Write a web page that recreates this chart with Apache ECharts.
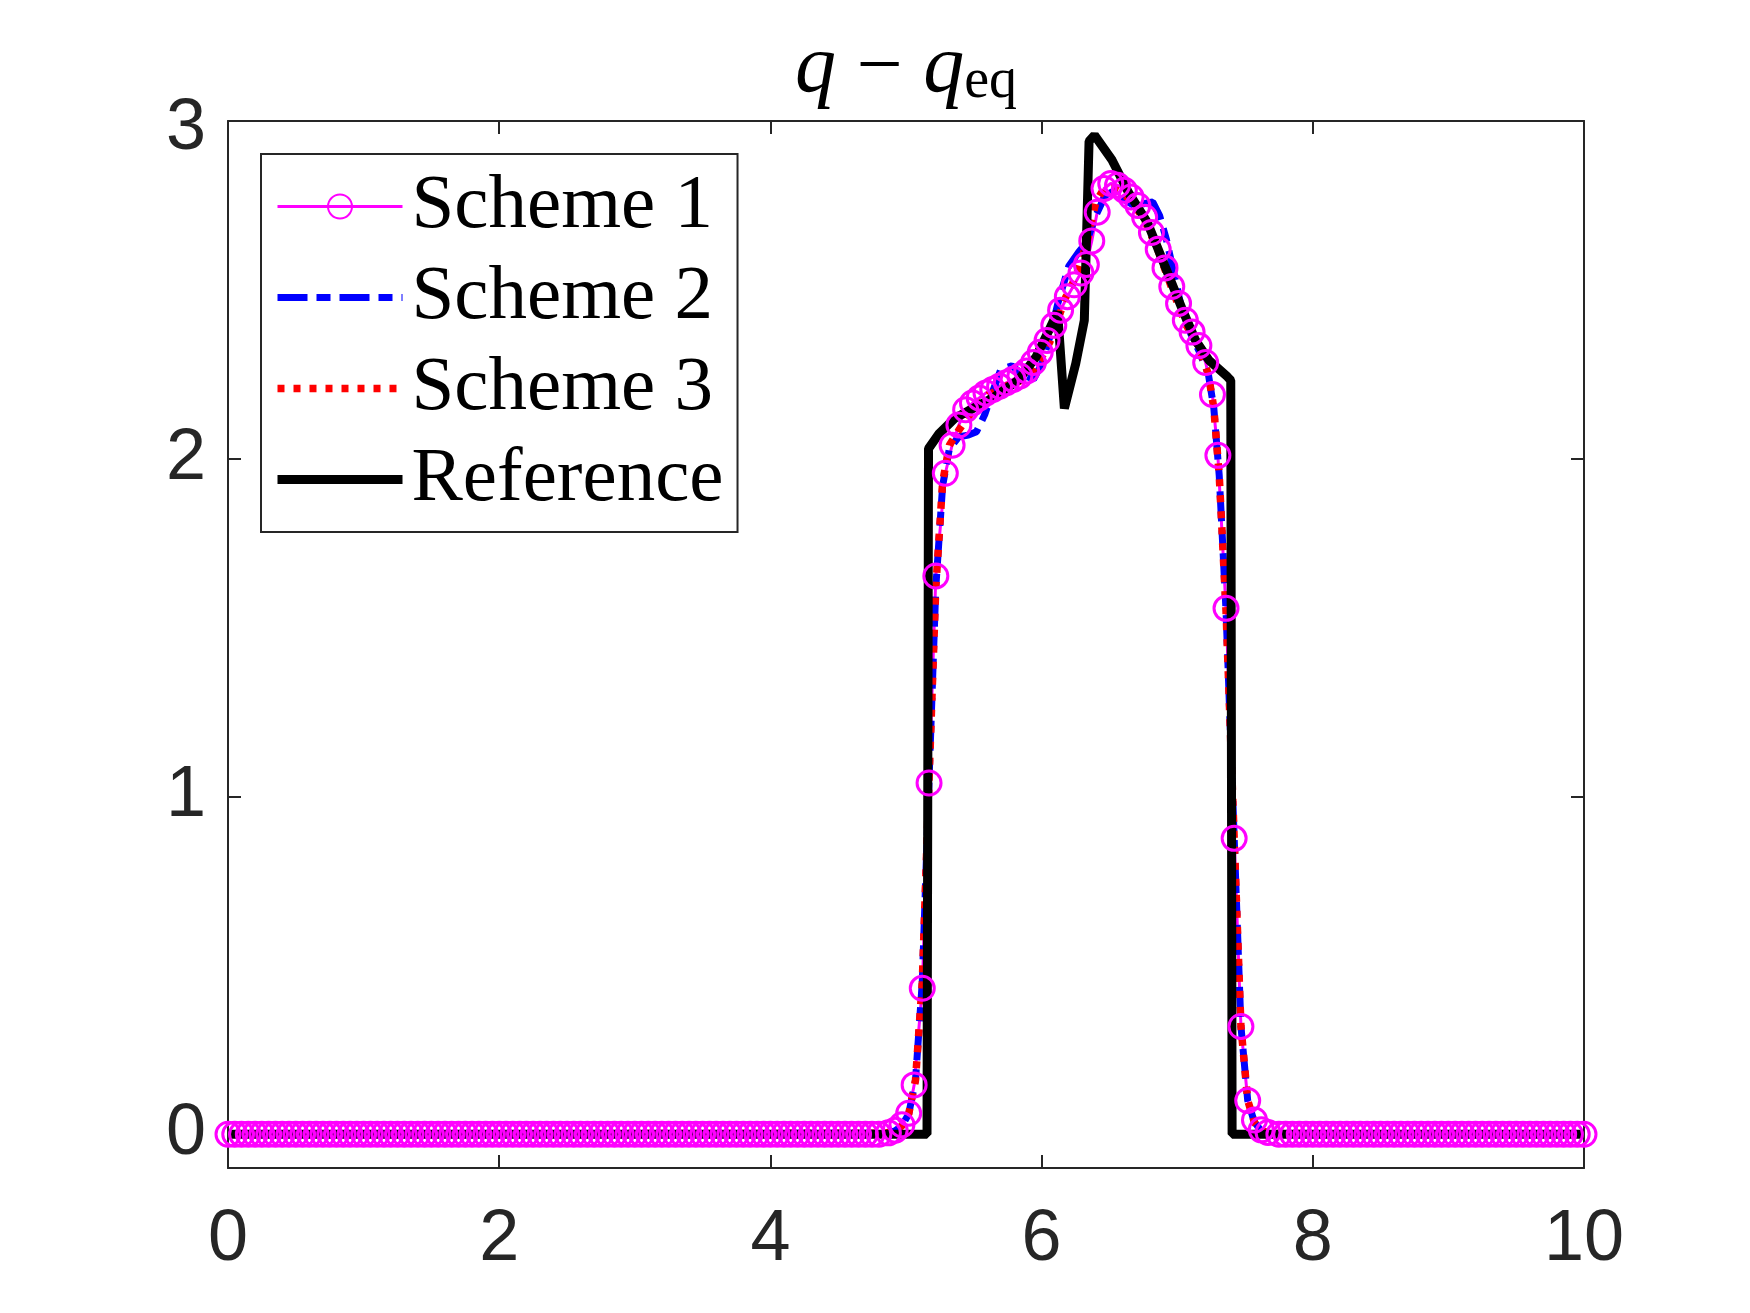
<!DOCTYPE html>
<html>
<head>
<meta charset="utf-8">
<script src="https://cdn.jsdelivr.net/npm/echarts@6/dist/echarts.min.js"></script>
<style>
  html, body { margin: 0; padding: 0; background: #fff; }
  #chart { width: 1750px; height: 1313px; }
</style>
</head>
<body>
<div id="chart"></div>
<script>
// axis ticks
const xTicks = [0, 2, 4, 6, 8, 10];
const xTickLabels = ['0', '2', '4', '6', '8', '10'];
const yTicks = [0, 1, 2, 3];
const yTickLabels = ['0', '1', '2', '3'];

const seriesNames = ['Scheme 1', 'Scheme 2', 'Scheme 3', 'Reference'];

// Scheme 1 (markers at every grid point)
const s1LeftX = [
  0, 0.05, 0.1, 0.15, 0.2, 0.25, 0.3, 0.35, 0.4, 0.45,
  0.5, 0.55, 0.6, 0.65, 0.7, 0.75, 0.8, 0.85, 0.9, 0.95,
  1, 1.05, 1.1, 1.15, 1.2, 1.25, 1.3, 1.35, 1.4, 1.45,
  1.5, 1.55, 1.6, 1.65, 1.7, 1.75, 1.8, 1.85, 1.9, 1.95,
  2, 2.05, 2.1, 2.15, 2.2, 2.25, 2.3, 2.35, 2.4, 2.45,
  2.5, 2.55, 2.6, 2.65, 2.7, 2.75, 2.8, 2.85, 2.9, 2.95,
  3, 3.05, 3.1, 3.15, 3.2, 3.25, 3.3, 3.35, 3.4, 3.45,
  3.5, 3.55, 3.6, 3.65, 3.7, 3.75, 3.8, 3.85, 3.9, 3.95,
  4, 4.05, 4.1, 4.15, 4.2, 4.25, 4.3, 4.35, 4.4, 4.45,
  4.5, 4.55, 4.6, 4.65, 4.7, 4.75, 4.8
];
const s1LeftY = [
  0, 0, 0, 0, 0, 0, 0, 0, 0, 0,
  0, 0, 0, 0, 0, 0, 0, 0, 0, 0,
  0, 0, 0, 0, 0, 0, 0, 0, 0, 0,
  0, 0, 0, 0, 0, 0, 0, 0, 0, 0,
  0, 0, 0, 0, 0, 0, 0, 0, 0, 0,
  0, 0, 0, 0, 0, 0, 0, 0, 0, 0,
  0, 0, 0, 0, 0, 0, 0, 0, 0, 0,
  0, 0, 0, 0, 0, 0, 0, 0, 0, 0,
  0, 0, 0, 0, 0, 0, 0, 0, 0, 0,
  0, 0, 0, 0, 0, 0, 0
];
const s1BumpX = [
  4.87, 4.92, 4.97, 5.02, 5.06, 5.12, 5.17, 5.22, 5.29, 5.34,
  5.39, 5.44, 5.49, 5.54, 5.59, 5.64, 5.69, 5.74, 5.79, 5.84,
  5.89, 5.94, 5.99, 6.04, 6.09, 6.14, 6.19, 6.24, 6.29, 6.33,
  6.37, 6.41, 6.46, 6.51, 6.56, 6.61, 6.66, 6.71, 6.76, 6.81,
  6.86, 6.91, 6.96, 7.01, 7.06, 7.11, 7.16, 7.21, 7.26, 7.30,
  7.36, 7.42, 7.47, 7.52, 7.57, 7.62, 7.67
];
const s1BumpY = [
  0.004, 0.012, 0.028, 0.062, 0.146, 0.432, 1.04, 1.653, 1.957, 2.04,
  2.10, 2.145, 2.165, 2.18, 2.195, 2.205, 2.215, 2.225, 2.235, 2.245,
  2.26, 2.285, 2.315, 2.35, 2.395, 2.44, 2.48, 2.515, 2.55, 2.575,
  2.645, 2.73, 2.80, 2.815, 2.81, 2.795, 2.775, 2.75, 2.715, 2.67,
  2.62, 2.565, 2.51, 2.46, 2.41, 2.375, 2.335, 2.285, 2.19, 2.01,
  1.557, 0.876, 0.319, 0.10, 0.042, 0.013, 0.005
];
const s1RightX = [
  7.75, 7.8, 7.85, 7.9, 7.95,
  8, 8.05, 8.1, 8.15, 8.2, 8.25, 8.3, 8.35, 8.4, 8.45,
  8.5, 8.55, 8.6, 8.65, 8.7, 8.75, 8.8, 8.85, 8.9, 8.95,
  9, 9.05, 9.1, 9.15, 9.2, 9.25, 9.3, 9.35, 9.4, 9.45,
  9.5, 9.55, 9.6, 9.65, 9.7, 9.75, 9.8, 9.85, 9.9, 9.95,
  10
];
const s1RightY = [
  0, 0, 0, 0, 0,
  0, 0, 0, 0, 0, 0, 0, 0, 0, 0,
  0, 0, 0, 0, 0, 0, 0, 0, 0, 0,
  0, 0, 0, 0, 0, 0, 0, 0, 0, 0,
  0, 0, 0, 0, 0, 0, 0, 0, 0, 0,
  0
];

// Scheme 2 (dash-dot)
const s2X = [0, 4.85, 4.92, 4.97, 5.02, 5.07, 5.12, 5.17, 5.22, 5.27,
  5.32, 5.39, 5.46, 5.52, 5.58, 5.64, 5.70, 5.78, 5.86, 5.94,
  6.0, 6.06, 6.12, 6.2, 6.27, 6.33, 6.40, 6.47, 6.52, 6.6,
  6.68, 6.75, 6.82, 6.87, 6.92, 6.97, 7.03, 7.1, 7.16, 7.23,
  7.27, 7.31, 7.36, 7.42, 7.47, 7.52, 7.57, 7.62, 7.70, 10];
const s2Y = [0, 0.003, 0.01, 0.025, 0.06, 0.16, 0.45, 1.05, 1.62, 1.92,
  2.03, 2.065, 2.07, 2.08, 2.13, 2.2, 2.265, 2.275, 2.25, 2.235,
  2.28, 2.36, 2.46, 2.57, 2.61, 2.64, 2.72, 2.78, 2.79, 2.77,
  2.75, 2.755, 2.76, 2.72, 2.65, 2.56, 2.45, 2.37, 2.32, 2.25,
  2.15, 1.95, 1.55, 0.88, 0.32, 0.10, 0.035, 0.01, 0.002, 0];

// Scheme 3 (dotted)
const s3X = [0, 4.85, 4.92, 4.97, 5.02, 5.07, 5.12, 5.17, 5.22, 5.27,
  5.32, 5.39, 5.49, 5.61, 5.74, 5.84, 5.91, 6.0, 6.06, 6.18,
  6.23, 6.28, 6.34, 6.40, 6.46, 6.52, 6.58, 6.66, 6.76, 6.86,
  6.96, 7.06, 7.16, 7.23, 7.27, 7.31, 7.36, 7.42, 7.47, 7.52,
  7.57, 7.62, 7.70, 10];
const s3Y = [0, 0.003, 0.01, 0.025, 0.06, 0.16, 0.45, 1.05, 1.62, 1.93,
  2.04, 2.085, 2.14, 2.19, 2.215, 2.23, 2.245, 2.30, 2.345, 2.48,
  2.52, 2.57, 2.65, 2.76, 2.80, 2.80, 2.79, 2.765, 2.705, 2.615,
  2.505, 2.40, 2.33, 2.25, 2.15, 1.95, 1.55, 0.88, 0.32, 0.10,
  0.035, 0.01, 0.002, 0];

// Reference solution
const refX = [0, 5.155, 5.166, 5.245, 5.36, 5.5, 5.64, 5.83, 5.96, 6.055,
  6.118, 6.168, 6.252, 6.315, 6.35, 6.39, 6.52, 6.644, 6.78, 6.89,
  7.04, 7.135, 7.233, 7.37, 7.395, 7.405, 10];
const refY = [0, 0, 2.03, 2.075, 2.12, 2.15, 2.18, 2.233, 2.302, 2.381,
  2.435, 2.149, 2.282, 2.41, 2.94, 2.958, 2.884, 2.786, 2.70, 2.59,
  2.44, 2.351, 2.292, 2.243, 2.232, 0, 0];

const pairs = (xs, ys) => xs.map((x, i) => [x, ys[i]]);

const chart = echarts.init(document.getElementById('chart'));

const axisColor = '#262626';
const tickFont = 'Liberation Sans';
const serif = 'Liberation Serif';
const noMarker = { opacity: 0, color: 'rgba(0,0,0,0)', borderWidth: 0 };

chart.setOption({
  animation: false,
  backgroundColor: '#fff',
  title: {
    text: '{i|q} {m|−} {i|q}{s|eq}',
    left: 906,
    top: 26,
    textAlign: 'center',
    padding: 0,
    textStyle: {
      fontFamily: serif,
      fontSize: 82,
      fontWeight: 'normal',
      color: '#000',
      lineHeight: 86,
      rich: {
        i: { fontFamily: serif, fontStyle: 'italic', fontSize: 82, lineHeight: 86, color: '#000' },
        m: { fontFamily: serif, fontSize: 82, lineHeight: 86, color: '#000' },
        s: { fontFamily: serif, fontSize: 56, lineHeight: 60, padding: [26, 0, 0, 0], color: '#000' }
      }
    }
  },
  legend: {
    orient: 'vertical',
    left: 261,
    top: 154,
    padding: [14, 14, 14, 12],
    itemWidth: 125,
    itemHeight: 30,
    itemGap: 14,
    borderColor: axisColor,
    borderWidth: 2,
    backgroundColor: '#fff',
    selectedMode: false,
    textStyle: {
      fontFamily: serif,
      fontSize: 77,
      lineHeight: 77,
      color: '#000',
      padding: [0, 0, 0, 4]
    },
    data: [
      { name: seriesNames[0], lineStyle: { width: 3 } },
      { name: seriesNames[1], lineStyle: { width: 7 }, itemStyle: noMarker },
      { name: seriesNames[2], lineStyle: { width: 7.5 }, itemStyle: noMarker },
      { name: seriesNames[3], lineStyle: { width: 9 }, itemStyle: noMarker }
    ]
  },
  grid: {
    left: 228,
    right: 166,
    top: 121,
    bottom: 145
  },
  xAxis: [
    {
      type: 'value',
      position: 'bottom',
      min: 0,
      max: 10,
      interval: 2,
      axisLine: { onZero: false, lineStyle: { color: axisColor, width: 2 } },
      axisTick: { inside: true, length: 13, lineStyle: { color: axisColor, width: 2 } },
      axisLabel: {
        margin: 36,
        fontFamily: tickFont,
        fontSize: 72,
        color: axisColor,
        formatter: v => xTickLabels[xTicks.indexOf(v)]
      },
      splitLine: { show: false }
    },
    {
      type: 'value',
      position: 'top',
      min: 0,
      max: 10,
      interval: 2,
      axisLine: { onZero: false, lineStyle: { color: axisColor, width: 2 } },
      axisTick: { inside: true, length: 13, lineStyle: { color: axisColor, width: 2 } },
      axisLabel: { show: false },
      splitLine: { show: false }
    }
  ],
  yAxis: [
    {
      type: 'value',
      position: 'left',
      min: -0.1,
      max: 3,
      axisLine: { onZero: false, lineStyle: { color: axisColor, width: 2 } },
      axisTick: { inside: true, length: 13, customValues: yTicks, lineStyle: { color: axisColor, width: 2 } },
      axisLabel: {
        margin: 22,
        fontFamily: tickFont,
        fontSize: 72,
        color: axisColor,
        customValues: yTicks,
        // the top label sits a little below its tick in the original
        formatter: v => (v === 3 ? '{low|' + yTickLabels[3] + '}' : yTickLabels[yTicks.indexOf(v)]),
        rich: {
          low: { fontFamily: tickFont, fontSize: 72, color: axisColor, padding: [16, 0, 0, 0] }
        }
      },
      splitLine: { show: false }
    },
    {
      type: 'value',
      position: 'right',
      min: -0.1,
      max: 3,
      axisLine: { onZero: false, lineStyle: { color: axisColor, width: 2 } },
      axisTick: { inside: true, length: 13, customValues: yTicks, lineStyle: { color: axisColor, width: 2 } },
      axisLabel: { show: false, customValues: yTicks },
      splitLine: { show: false }
    }
  ],
  series: [
    {
      name: 'Scheme 1',
      type: 'line',
      data: pairs(s1LeftX.concat(s1BumpX, s1RightX), s1LeftY.concat(s1BumpY, s1RightY)),
      symbol: 'circle',
      symbolSize: 24,
      showAllSymbol: true,
      lineStyle: { color: '#ff00ff', width: 3 },
      itemStyle: { color: 'rgba(255,0,255,0)', borderColor: '#ff00ff', borderWidth: 3 },
      emphasis: { disabled: true }
    },
    {
      name: 'Scheme 2',
      type: 'line',
      data: pairs(s2X, s2Y),
      symbol: 'none',
      lineStyle: { color: '#0000ff', width: 7, type: [30, 9, 14, 9], cap: 'butt' },
      itemStyle: { color: '#0000ff' },
      emphasis: { disabled: true }
    },
    {
      name: 'Scheme 3',
      type: 'line',
      data: pairs(s3X, s3Y),
      symbol: 'none',
      lineStyle: { color: '#ff0000', width: 7.5, type: [7, 9], cap: 'butt' },
      itemStyle: { color: '#ff0000' },
      emphasis: { disabled: true }
    },
    {
      name: 'Reference',
      type: 'line',
      data: pairs(refX, refY),
      symbol: 'none',
      lineStyle: { color: '#000', width: 9 },
      itemStyle: { color: '#000' },
      emphasis: { disabled: true }
    }
  ]
});
</script>
</body>
</html>
